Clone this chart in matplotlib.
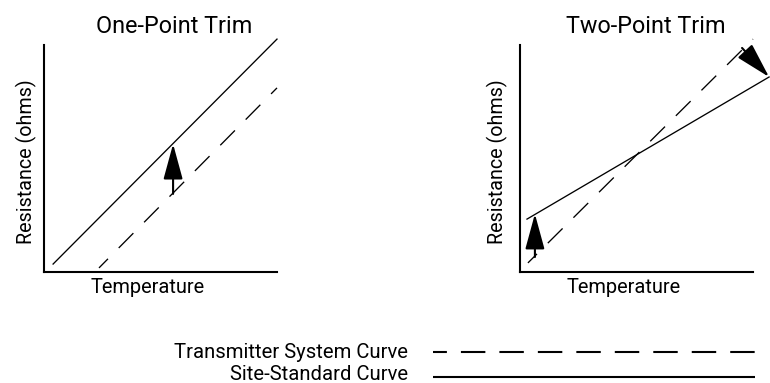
import matplotlib
matplotlib.use('Agg')
import matplotlib.pyplot as plt

plt.rcParams['font.family'] = ['Roboto', 'DejaVu Sans']
plt.rcParams['lines.scale_dashes'] = False

# curve end points (temperature 0-100, resistance 0-100)
one_site_temp = [3.9, 100.0]
one_site_res = [3.5, 102.6]
one_trans_temp = [23.6, 100.0]
one_trans_res = [1.8, 81.1]
one_arrows = [((55.4, 34.4), (55.4, 56.4))]

two_site_temp = [3.0, 106.9]
two_site_res = [23.3, 85.9]
two_trans_temp = [3.4, 100.0]
two_trans_res = [4.0, 102.6]
two_arrows = [((6.4, 6.6), (6.4, 25.6)), ((95.3, 98.7), (106.9, 85.9))]

titles = ['One-Point Trim', 'Two-Point Trim']
legend_labels = ['Transmitter System Curve', 'Site-Standard Curve']

W, H = 770, 383
plot_dash = (5.8, (15.0, 11.0))     # offset, (on, off) in points
legend_dash = (7.6, (17.6, 10.1))


def draw_panel(ax, title, site_t, site_r, trans_t, trans_r, arrows, title_x, ylab_x):
    ax.plot(site_t, site_r, color='black', lw=0.95, clip_on=False)
    ax.plot(trans_t, trans_r, color='black', lw=0.95, linestyle=plot_dash, clip_on=False)
    for tail, tip in arrows:
        ax.annotate('', xy=tip, xytext=tail, annotation_clip=False,
                    arrowprops=dict(arrowstyle='-|>,head_length=2.2,head_width=0.6',
                                    mutation_scale=10, lw=1.5, color='black',
                                    shrinkA=0, shrinkB=0))
    ax.set_xlim(0, 100)
    ax.set_ylim(0, 100)
    for s in ['top', 'right']:
        ax.spines[s].set_visible(False)
    for s in ['left', 'bottom']:
        ax.spines[s].set_linewidth(1.5)
    ax.set_xticks([])
    ax.set_yticks([])
    ax.text(title_x, 1.053, title, transform=ax.transAxes, ha='center',
            va='baseline', fontsize=16.8)
    ax.text(0.445, -0.0925, 'Temperature', transform=ax.transAxes, ha='center',
            va='baseline', fontsize=14.4)
    ax.text(ylab_x, 0.487, 'Resistance (ohms)', transform=ax.transAxes, ha='center',
            va='baseline', rotation=90, rotation_mode='anchor', fontsize=14.2)


fig = plt.figure(figsize=(W / 100, H / 100), dpi=100)
ax1 = fig.add_axes([44 / W, 111 / H, 233 / W, 227 / H])
ax2 = fig.add_axes([520 / W, 111 / H, 233 / W, 227 / H])

draw_panel(ax1, titles[0], one_site_temp, one_site_res, one_trans_temp, one_trans_res,
           one_arrows, 0.558, -0.0515)
draw_panel(ax2, titles[1], two_site_temp, two_site_res, two_trans_temp, two_trans_res,
           two_arrows, 0.541, -0.073)

# legend drawn by hand: labels right aligned, samples to the right
lax = fig.add_axes([433 / W, 0, 322 / W, 53 / H])
lax.set_xlim(0, 1)
lax.set_ylim(0, 53)
lax.axis('off')
lax.plot([0, 1], [31, 31], color='black', lw=1.5, linestyle=legend_dash,
         dash_capstyle='butt')
lax.plot([0, 1], [6, 6], color='black', lw=1.5, solid_capstyle='butt')
lax.text(-0.078, 25.5, legend_labels[0], ha='right', va='baseline', fontsize=14.6)
lax.text(-0.078, 2.5, legend_labels[1], ha='right', va='baseline', fontsize=14.6)

fig.savefig('out.png', dpi=100)
